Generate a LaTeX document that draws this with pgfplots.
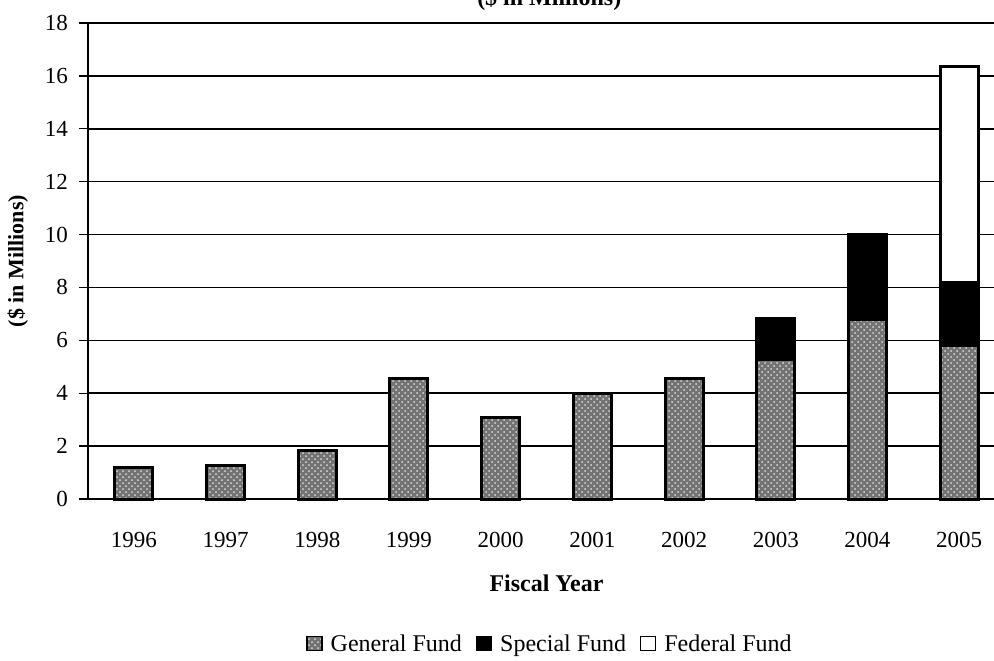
\documentclass[border=0pt]{standalone}
\usepackage{pgfplots}
\pgfplotsset{compat=1.18}
\usepackage{fontspec}
\setmainfont{Liberation Serif}
\usetikzlibrary{patterns}
\begin{document}
\begin{tikzpicture}
\begin{axis}[
  name=ax,
  scale only axis,
  width=458.5pt, height=238pt,
  xmin=-0.5, xmax=9.5,
  ymin=0, ymax=18,
  ytick={0,2,...,18},
  ymajorgrids,
  grid style={black, line width=0.75pt},
  axis x line*=bottom,
  axis y line*=left,
  axis line style={black, line width=0.8pt},
  xtick={0,...,9},
  xticklabels={1996,1997,1998,1999,2000,2001,2002,2003,2004,2005},
  major x tick style={draw=none},
  extra x ticks={-0.5,0.5,1.5,2.5,3.5,4.5,5.5,6.5,7.5,8.5},
  extra x tick labels={},
  extra x tick style={tick style={black, line width=0.7pt}, major tick length=5pt, tick align=outside, grid=none},
  ytick style={black, line width=0.7pt},
  major tick length=4.5pt,
  tick align=outside,
  tick label style={font=\fontsize{11.5}{13}\selectfont},
  /pgf/number format/assume math mode=true,
  xticklabel style={yshift=-8.5pt},
  yticklabel style={xshift=-2pt},
  ybar stacked,
  bar width=19pt,
  xlabel={\textbf{Fiscal Year}},
  xlabel style={at={(axis description cs:0.5,-0.1765)}, anchor=center, font=\fontsize{12}{14}\selectfont},
  ylabel={\textbf{(\$ in Millions)}},
  ylabel style={at={(axis description cs:-0.0765,0.5)}, anchor=center, rotate=0, font=\fontsize{11}{13}\selectfont},
  legend style={at={(axis description cs:0.505,-0.307)}, anchor=center, draw=none, legend columns=3,
    font=\fontsize{12}{14}\selectfont, column sep=2pt, /tikz/every even column/.append style={column sep=5pt}},
  area legend,
  legend image code/.code={\draw[#1, line width=0.6pt] (0pt,-2.5pt) rectangle (7.5pt,4.5pt);},
  clip=false,
]
\addplot[draw=black, line width=1.5pt, fill=black!55, postaction={pattern=crosshatch dots, pattern color=black!15}]
  coordinates {(0,1.2) (1,1.25) (2,1.85) (3,4.55) (4,3.1) (5,4.0) (6,4.55) (7,5.27) (8,6.8) (9,5.8)};
\addplot[draw=black, line width=1.5pt, fill=black]
  coordinates {(0,0) (1,0) (2,0) (3,0) (4,0) (5,0) (6,0) (7,1.55) (8,3.2) (9,2.38)};
\addplot[draw=black, line width=1.5pt, fill=white]
  coordinates {(0,0) (1,0) (2,0) (3,0) (4,0) (5,0) (6,0) (7,0) (8,0) (9,8.18)};
\legend{General Fund, Special Fund, Federal Fund}
\node[anchor=base, font=\bfseries\fontsize{12}{14}\selectfont] at (rel axis cs:0.503,1.0378) {(\$ in Millions)};
\end{axis}
\pgfresetboundingbox
\path[use as bounding box] ([xshift=-44pt, yshift=-80.5pt]ax.south west) rectangle ([xshift=453pt, yshift=249.5pt]ax.south west);
\end{tikzpicture}
\end{document}
